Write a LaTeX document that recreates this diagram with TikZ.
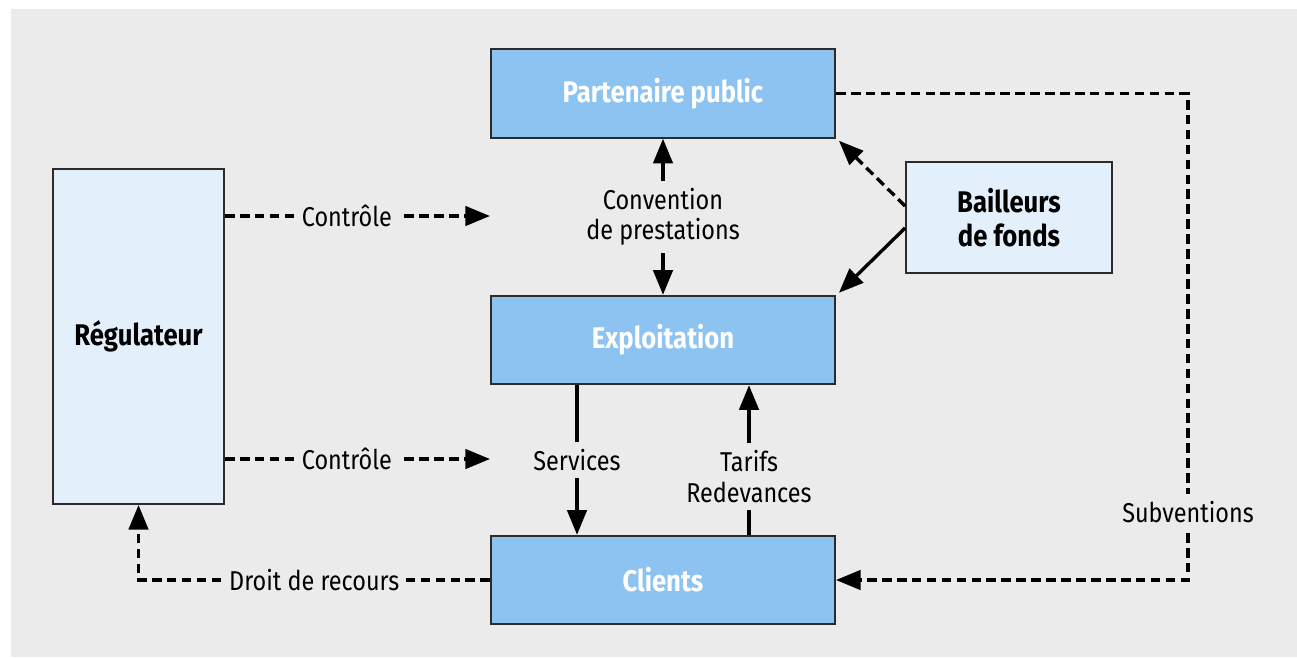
\documentclass[tikz,border=0pt]{standalone}
\usepackage{fontspec}
\setmainfont{Fira Sans}[FakeStretch=0.86]
\usetikzlibrary{arrows.meta}
\definecolor{bggray}{HTML}{EBEBEB}
\definecolor{boxblue}{HTML}{8CC3F0}
\definecolor{boxpale}{HTML}{E3EFFB}
\definecolor{edgegray}{HTML}{2B2B2B}
\newcommand{\diagfont}{\fontsize{15.5}{17.5}\selectfont}
\newcommand{\boxfont}{\fontsize{17}{19}\selectfont\bfseries}

\begin{document}
\begin{tikzpicture}[x=0.02cm,y=-0.02cm,line width=1.9pt,font=\diagfont,
>={Triangle[length=14pt,width=11pt]},
bluebox/.style={draw=edgegray,line width=1.1pt,fill=boxblue,minimum width=6.88cm,minimum height=1.77cm,font=\boxfont,text=white},
palebox/.style={draw=edgegray,line width=1.1pt,fill=boxpale,align=center,font=\boxfont},
flowlabel/.style={fill=bggray,inner sep=4pt,align=center},
dashline/.style={dash pattern=on 5.5pt off 3pt}]

\fill[bggray] (11,9) rectangle (1297,657);
\useasboundingbox (0,0) rectangle (1297,657);

\node[bluebox] (partenaire) at (663,93.5) {Partenaire public};
\node[bluebox] (exploitation) at (663,340) {Exploitation};
\node[bluebox] (clients) at (663,580) {Clients};
\node[palebox,minimum width=3.42cm,minimum height=6.7cm] (regulateur) at (138.5,336.5) {Régulateur};
\node[palebox,minimum width=4.12cm,minimum height=2.22cm] (bailleurs) at (1009,217.5) {Bailleurs\\de fonds};

\coordinate (ctrlA) at (490,216);
\coordinate (ctrlB) at (490,459);
\coordinate (srv) at (577,0);
\coordinate (trf) at (749,0);
\coordinate (subv) at (1188,0);

\draw[->,dashline] (regulateur.east |- ctrlA) -- node[flowlabel,pos=.46] {Contrôle} (ctrlA);
\draw[->,dashline] (regulateur.east |- ctrlB) -- node[flowlabel,pos=.46] {Contrôle} (ctrlB);
\draw[<->] (partenaire) -- node[flowlabel] {Convention\\de prestations} (exploitation);
\draw[->] (exploitation.south -| srv) -- node[flowlabel] {Services} (clients.north -| srv);
\draw[->] (clients.north -| trf) -- node[flowlabel,pos=.39] {Tarifs\\Redevances} (exploitation.south -| trf);
\draw[->,dashline] ([yshift=0.23cm]bailleurs.west) -- ([shift={(3,2)}]partenaire.south east);
\draw[->] ([yshift=-0.21cm]bailleurs.west) -- ([shift={(3,-2)}]exploitation.north east);
\draw[->,dashline] (partenaire.east) -- (partenaire.east -| subv) -- node[flowlabel,pos=.86] {Subventions} (clients.east -| subv) -- (clients.east);
\draw[->,dashline] (clients.west) -- node[flowlabel,pos=.5] {Droit de recours} (clients.west -| regulateur.south) -- (regulateur.south);
\end{tikzpicture}
\end{document}
